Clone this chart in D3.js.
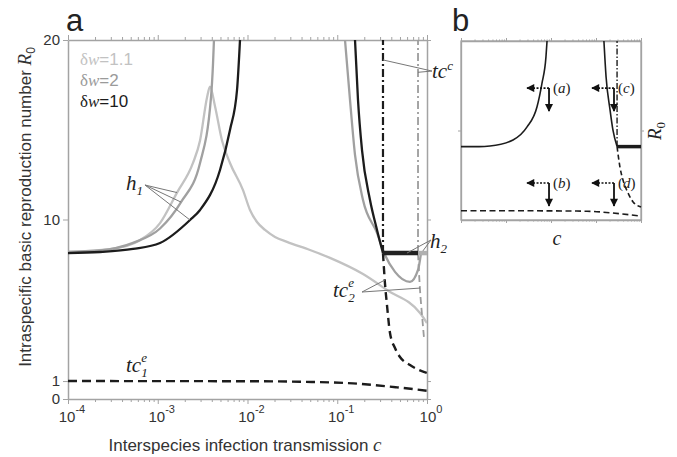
<!DOCTYPE html>
<html><head><meta charset="utf-8">
<script src="https://cdn.jsdelivr.net/npm/d3@7"></script>
<style>body{margin:0;background:#fff}svg{display:block}</style>
</head><body><svg id="chart" width="677" height="457"></svg>
<script>
// ---------------- DATA ----------------
const xTickExps = [-4, -3, -2, -1, 0];
const yTickVals = [0, 1, 10, 20];
const legendLabels = ["1.1", "2", "10"];

// h1 branches [c, R0]
const h1Light = [[1e-4,8.2],[2.94e-4,8.35],[6.34e-4,8.85],[1.06e-3,9.8],[1.64e-3,11.5],[2.47e-3,13.15],[2.96e-3,14.4],[3.54e-3,16.8],[3.82e-3,17.4],[4.35e-3,16.3],[5.2e-3,14.4],[6.38e-3,13.15],[8.91e-3,11.64],[1.066e-2,10.53],[1.276e-2,9.86],[1.567e-2,9.42],[2.025e-2,9.03],[2.754e-2,8.75],[4.97e-2,8.3],[8.3e-2,7.86],[0.1936,6.96],[0.358,6.07],[0.836,4.79],[1,4.23]];
const h1Mid = [[1e-4,8.2],[2.27e-4,8.28],[5.3e-4,8.7],[1.06e-3,9.5],[1.816e-3,10.97],[2.96e-3,13.15],[3.92e-3,16.8],[4.13e-3,18.7],[4.23e-3,20]];
const h1Dark = [[1e-4,8.13],[2.27e-4,8.19],[5.3e-4,8.36],[1.06e-3,8.69],[2.29e-3,9.97],[2.96e-3,10.53],[4.94e-3,12.76],[6.38e-3,14.99],[7.64e-3,17.2],[8.25e-3,20]];
// h2 branches
const h2Mid = [[0.122,20],[0.1387,16.66],[0.1577,13.6],[0.1936,11.09],[0.2773,9.25],[0.3404,8.02],[0.44,7.08],[0.6466,6.52],[0.794,7.19],[0.858,8.13]];
const h2Dark = [[0.1577,20],[0.1703,16.66],[0.1887,13.87],[0.2317,11.09],[0.2773,9.42],[0.3233,8.13]];
const h2FlatDark = [[0.3233,8.13],[0.794,8.13]];
const h2FlatLight = [[0.794,8.13],[1,8.13]];
// thresholds
const tccDark = [[0.3233,8.13],[0.3233,20]];
const tccLight = [[0.794,8.13],[0.794,20]];
const tc2eDark = [[0.3233,8.13],[0.34,6.46],[0.358,5.24],[0.387,3.68],[0.44,2.84],[0.5,2.34],[0.6466,1.89],[1,1.45]];
const tc2eLight = [[0.794,8.13],[0.836,6.07],[0.88,4.68],[0.926,3.4]];
const tc1e = [[1e-4,1],[1e-2,0.99],[3.85e-2,0.96],[0.15,0.87],[0.463,0.65],[1,0.46]];

// annotation pointers [origin, target] in data coords
const h1Pointers = [[[7.21e-4,11.92],[1.64e-3,11.5]],[[7.21e-4,11.92],[1.816e-3,10.97]],[[7.21e-4,11.92],[2.29e-3,9.97]]];
const tccPointers = [[[1.137,18.27],[0.3233,18.89]],[[1.137,18.27],[0.794,18.2]]];
const h2Pointers = [[[1.108,8.86],[0.598,8.13]],[[1.108,8.86],[0.9,8.25]]];
const tc2ePointers = [[[0.1887,5.96],[0.34,6.63]],[[0.1887,5.96],[0.836,6.18]]];

// panel b schematic (normalised units)
const bLeft = [[0,0.41],[0.1,0.41],[0.161,0.413],[0.289,0.447],[0.367,0.52],[0.422,0.631],[0.45,0.765],[0.472,0.911],[0.478,1]];
const bRight = [[0.794,1],[0.806,0.799],[0.828,0.615],[0.844,0.503],[0.867,0.41]];
const bFlat = [[0.867,0.41],[1,0.41]];
const bTcc = [[0.867,0.41],[0.867,1]];
const bTc2e = [[0.867,0.41],[0.883,0.296],[0.9,0.223],[0.928,0.151],[0.956,0.101],[1,0.073]];
const bTc1e = [[0,0.052],[0.5,0.051],[0.7,0.049],[0.844,0.039],[1,0.022]];
const bArrows = [[0.489,0.737],[0.489,0.207],[0.85,0.737],[0.85,0.207]]; // corner points
const bArrowOrder = ["a","b","c","d"];

// ---------------- DRAW ----------------
const svg = d3.select("#chart");
const SANS = "'Liberation Sans', Arial, sans-serif";
const SERIF = "'Liberation Serif', 'Times New Roman', serif";
const AX = "#a3a3a3";
const cLight = "#c2c2c2", cMid = "#a0a0a0", cDark = "#1c1c1c";

const x = d3.scaleLog().domain([1e-4, 1]).range([68, 427]);
const y = d3.scaleLinear().domain([0, 20]).range([399, 40]);

const defs = svg.append("defs");
defs.append("clipPath").attr("id","clipA").append("rect").attr("x",68).attr("y",40).attr("width",359).attr("height",359);
defs.append("marker").attr("id","ah").attr("viewBox","0 0 10 10").attr("refX",9).attr("refY",5)
  .attr("markerWidth",9).attr("markerHeight",8).attr("markerUnits","userSpaceOnUse").attr("orient","auto")
  .append("path").attr("d","M0,0L10,5L0,10Z").attr("fill","#111");

// minor tick values
const minor = [];
for (let e = -4; e < 0; e++) for (let k = 1; k < 10; k++) minor.push(k * Math.pow(10, e));
minor.push(1);
const isMajor = v => Math.abs(Math.log10(v) - Math.round(Math.log10(v))) < 1e-9;

function styleAxis(g) {
  g.select(".domain").attr("stroke", AX).attr("stroke-width", 1.5);
  g.selectAll(".tick line").attr("stroke", AX).attr("stroke-width", 1);
  g.selectAll("text").attr("fill", "#333").attr("font-family", SANS).attr("font-size", 15);
}

// panel a axes
const gb = svg.append("g").attr("transform","translate(0,399)")
  .call(d3.axisBottom(x).tickValues(minor).tickSizeOuter(0).tickFormat(""));
gb.selectAll(".tick line").attr("y2", d => isMajor(d) ? 5 : 3);
styleAxis(gb);
const gt = svg.append("g").attr("transform","translate(0,40)")
  .call(d3.axisTop(x).tickValues(minor).tickSizeOuter(0).tickFormat(""));
gt.selectAll(".tick line").attr("y2", d => isMajor(d) ? -5 : -3);
styleAxis(gt);
const gl = svg.append("g").attr("transform","translate(68,0)")
  .call(d3.axisLeft(y).tickValues(yTickVals).tickSize(5).tickSizeOuter(0).tickPadding(3).tickFormat(d3.format("d")));
styleAxis(gl);
const gr = svg.append("g").attr("transform","translate(427,0)")
  .call(d3.axisRight(y).tickValues(yTickVals).tickSize(4).tickSizeOuter(0).tickFormat(""));
styleAxis(gr);

// x tick labels 10^e
xTickExps.forEach(e => {
  const t = svg.append("text").attr("x", x(Math.pow(10, e)) + 4).attr("y", 422)
    .attr("text-anchor","middle").attr("font-family", SANS).attr("font-size", 15).attr("fill","#333");
  t.append("tspan").text("10");
  t.append("tspan").attr("dy",-9).attr("font-size",11).text(e === 0 ? "0" : String(e));
});

// axis titles
const xt = svg.append("text").attr("x", 245).attr("y", 451).attr("text-anchor","middle")
  .attr("font-family", SANS).attr("font-size", 17).attr("fill","#333");
xt.append("tspan").text("Interspecies infection transmission ");
xt.append("tspan").attr("font-family", SERIF).attr("font-style","italic").attr("font-size",19).text("c");

const yt = svg.append("text").attr("transform","translate(31,207) rotate(-90)").attr("text-anchor","middle")
  .attr("font-family", SANS).attr("font-size", 17).attr("fill","#333");
yt.append("tspan").text("Intraspecific basic reproduction number ");
yt.append("tspan").attr("font-family", SERIF).attr("font-style","italic").attr("font-size",19).text("R");
yt.append("tspan").attr("dy",4).attr("font-size",12).text("0");

// panel labels
svg.append("text").attr("x",66).attr("y",31).attr("font-family",SANS).attr("font-size",31).attr("fill","#222").text("a");
svg.append("text").attr("x",452).attr("y",31).attr("font-family",SANS).attr("font-size",31).attr("fill","#222").text("b");

// legend
const legendColors = [cLight, "#9a9a9a", cDark];
legendLabels.forEach((lab, i) => {
  const t = svg.append("text").attr("x", 80).attr("y", 65 + i * 21).attr("font-size", 17).attr("fill", legendColors[i]);
  t.append("tspan").attr("font-family", SERIF).text("δ");
  t.append("tspan").attr("font-family", SERIF).attr("font-style","italic").text("w");
  t.append("tspan").attr("font-family", SANS).text("=" + lab);
});

// curves
const line = d3.line().x(d => x(d[0])).y(d => y(d[1])).curve(d3.curveMonotoneX);
const lineStraight = d3.line().x(d => x(d[0])).y(d => y(d[1]));
const ca = svg.append("g").attr("clip-path","url(#clipA)");
function path(data, color, w, dash, gen) {
  const p = ca.append("path").datum(data).attr("d", gen || line).attr("fill","none")
    .attr("stroke", color).attr("stroke-width", w).attr("stroke-linejoin","round");
  if (dash) p.attr("stroke-dasharray", dash);
  return p;
}
path(h1Light, cLight, 2.3);
path(h1Mid, cMid, 2.3);
path(h2Mid, cMid, 2.3);
path(h1Dark, cDark, 2.3);
path(h2Dark, cDark, 2.3);
path(tccLight, "#9c9c9c", 1.8, "8,3,2,3", lineStraight);
path(tc2eLight, "#9c9c9c", 1.8, "7,4");
path(tccDark, cDark, 2.2, "8,3,2,3", lineStraight);
path(tc2eDark, cDark, 2.4, "8,5");
path(tc1e, cDark, 2.4, "9,5");
path(h2FlatLight, "#b0b0b0", 4.5, null, lineStraight);
path(h2FlatDark, "#222", 4.5, null, lineStraight);

// pointer lines
[h1Pointers, tccPointers, h2Pointers, tc2ePointers].forEach(set => set.forEach(pr => {
  svg.append("line").attr("x1", x(pr[0][0])).attr("y1", y(pr[0][1])).attr("x2", x(pr[1][0])).attr("y2", y(pr[1][1]))
    .attr("stroke","#777").attr("stroke-width",1);
}));

// italic serif labels; stacked sub/sup drawn as separate texts
function mathLabel(px, py, base, sub, sup, size) {
  const t = svg.append("text").attr("x", px).attr("y", py).attr("font-family", SERIF)
    .attr("font-style","italic").attr("font-size", size).attr("fill","#222").text(base);
  const w = t.node().getComputedTextLength();
  const small = Math.round(size * 0.62);
  if (sub) svg.append("text").attr("x", px + w).attr("y", py + 5).attr("font-family", SERIF)
    .attr("font-style","italic").attr("font-size", small).attr("fill","#222").text(sub);
  if (sup) svg.append("text").attr("x", px + w).attr("y", py - (sub ? 10 : 8)).attr("font-family", SERIF)
    .attr("font-style","italic").attr("font-size", small).attr("fill","#222").text(sup);
}
mathLabel(126, 190, "h", "1", null, 21);
mathLabel(432, 78, "tc", null, "c", 21);
mathLabel(430, 248, "h", "2", null, 21);
mathLabel(333, 297, "tc", "2", "e", 21);
mathLabel(126, 372, "tc", "1", "e", 21);

// ---------------- panel b ----------------
const xb = d3.scaleLinear().domain([0,1]).range([461,641]);
const yb = d3.scaleLinear().domain([0,1]).range([220,41]);
const xbLog = d3.scaleLog().domain([1e-4,1]).range([461,641]);

svg.append("rect").attr("x",461).attr("y",41).attr("width",180).attr("height",179)
  .attr("fill","none").attr("stroke",AX).attr("stroke-width",1.3);
const bbt = svg.append("g").attr("transform","translate(0,41)").call(d3.axisTop(xbLog).tickValues(minor).tickSizeOuter(0).tickFormat(""));
bbt.selectAll(".tick line").attr("y2", d => isMajor(d) ? -3 : -1.5);
styleAxis(bbt); bbt.select(".domain").attr("stroke-width",1.3);
const bbb = svg.append("g").attr("transform","translate(0,220)").call(d3.axisBottom(xbLog).tickValues(minor).tickSizeOuter(0).tickFormat(""));
bbb.selectAll(".tick line").attr("y2", d => isMajor(d) ? 3 : 1.5);
styleAxis(bbb); bbb.select(".domain").attr("stroke-width",1.3);
const bbl = svg.append("g").attr("transform","translate(461,0)").call(d3.axisLeft(yb).tickValues([0.5]).tickSize(3).tickSizeOuter(0).tickFormat(""));
styleAxis(bbl); bbl.select(".domain").attr("stroke-width",1.3);
const bbr = svg.append("g").attr("transform","translate(641,0)").call(d3.axisRight(yb).tickValues([0.5]).tickSize(3).tickSizeOuter(0).tickFormat(""));
styleAxis(bbr); bbr.select(".domain").attr("stroke-width",1.3);

const lineB = d3.line().x(d => xb(d[0])).y(d => yb(d[1])).curve(d3.curveMonotoneX);
const lineBs = d3.line().x(d => xb(d[0])).y(d => yb(d[1]));
function pathB(data, w, dash, gen) {
  const p = svg.append("path").datum(data).attr("d", gen || lineB).attr("fill","none")
    .attr("stroke", "#1c1c1c").attr("stroke-width", w);
  if (dash) p.attr("stroke-dasharray", dash);
}
pathB(bLeft, 1.6);
pathB(bRight, 1.6);
pathB(bTcc, 1.4, "6,2,1.5,2", lineBs);
pathB(bTc2e, 1.6, "5,3");
pathB(bTc1e, 1.6, "6,3.5");
pathB(bFlat, 3.5, null, lineBs);

// arrows
bArrows.forEach((p, i) => {
  const cx = xb(p[0]), cy = yb(p[1]);
  svg.append("line").attr("x1", cx).attr("y1", cy).attr("x2", cx - 22).attr("y2", cy)
    .attr("stroke","#111").attr("stroke-width",1.6).attr("stroke-dasharray","2,1.5").attr("marker-end","url(#ah)");
  svg.append("line").attr("x1", cx).attr("y1", cy).attr("x2", cx).attr("y2", cy + 23)
    .attr("stroke","#111").attr("stroke-width",1.8).attr("marker-end","url(#ah)");
  const t = svg.append("text").attr("x", cx + 4).attr("y", cy + 5).attr("font-family", SERIF)
    .attr("font-size", 15).attr("fill","#222");
  t.append("tspan").text("(");
  t.append("tspan").attr("font-style","italic").text(bArrowOrder[i]);
  t.append("tspan").text(")");
});

// panel b axis labels
svg.append("text").attr("x", 557).attr("y", 245).attr("text-anchor","middle").attr("font-family",SERIF)
  .attr("font-style","italic").attr("font-size",20).attr("fill","#222").text("c");
const rb = svg.append("text").attr("transform","translate(661,131) rotate(-90)").attr("text-anchor","middle")
  .attr("font-family",SERIF).attr("font-style","italic").attr("font-size",19).attr("fill","#222");
rb.append("tspan").text("R");
rb.append("tspan").attr("dy",4).attr("font-size",13).attr("font-style","normal").text("0");
</script></body></html>
